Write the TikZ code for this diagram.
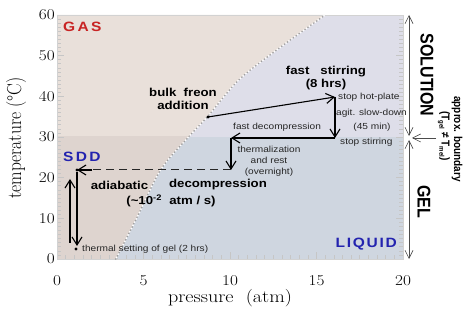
\documentclass[tikz,border=0pt]{standalone}
\usepackage{fontspec}
\setsansfont{Liberation Sans}
\usetikzlibrary{arrows.meta}
\definecolor{tlc}{RGB}{233,224,218}
\definecolor{blc}{RGB}{222,212,207}
\definecolor{trc}{RGB}{222,222,233}
\definecolor{brc}{RGB}{207,214,224}
\definecolor{gasred}{RGB}{200,35,35}
\definecolor{liqblue}{RGB}{35,35,175}
\newcommand{\hs}[1]{\scalebox{1.15}[1]{#1}}
\newcommand{\vs}[1]{\scalebox{1}[1.15]{#1}}
\begin{document}
\begin{tikzpicture}[x=1pt,y=1pt,
  every node/.style={inner sep=0pt},
  big/.style={font=\sffamily\bfseries\fontsize{11.5}{13}\selectfont, align=center},
  sml/.style={font=\sffamily\fontsize{8.8}{10.8}\selectfont, align=center, text=black!85},
  phase/.style={font=\sffamily\bfseries\fontsize{13.5}{14}\selectfont, anchor=west},
  proc/.style={line width=1.1pt, -{Straight Barb[length=8pt,width=10pt]}},
  side/.style={line width=0.6pt, draw=black!70, {Straight Barb[length=8pt,width=8pt]}-{Straight Barb[length=8pt,width=8pt]}},
  tck/.style={draw=gray!45, line width=0.6pt},
  ticklab/.style={font=\fontsize{15}{15}\selectfont},
  axlab/.style={font=\fontsize{17.5}{18}\selectfont},
]
\useasboundingbox (0,0) rectangle (471,312);
\fill[white] (0,0) rectangle (471,312);

\begin{scope}[shift={(57,53)}, x=17.3pt, y=4.0667pt]
  \fill[trc] (0,30) rectangle (20,60);
  \fill[brc] (0,0) rectangle (20,30);
  \begin{scope}
    \clip (0,30) rectangle (20,60);
    \fill[tlc] plot[smooth] coordinates {(3.4,0) (4.6,10) (6.0,22) (7.6,30) (8.7,35) (10.5,44) (12.7,51.4) (15.5,60)} -- (0,60) -- (0,0) -- cycle;
  \end{scope}
  \begin{scope}
    \clip (0,0) rectangle (20,30);
    \fill[blc] plot[smooth] coordinates {(3.4,0) (4.6,10) (6.0,22) (7.6,30) (8.7,35) (10.5,44) (12.7,51.4) (15.5,60)} -- (0,60) -- (0,0) -- cycle;
  \end{scope}
  % ticks
  \foreach \t in {1,...,59} {
    \draw[tck] (0,\t) -- ++(4pt,0pt);
    \draw[tck] (20,\t) -- ++(-4pt,0pt);
  }
  \foreach \t in {10,20,...,50} {
    \draw[tck] (0,\t) -- ++(7pt,0pt);
    \draw[tck] (20,\t) -- ++(-7pt,0pt);
  }
  \foreach \p in {0.5,1,...,19.5} {
    \draw[tck] (\p,0) -- ++(0pt,4pt);
  }
  \foreach \p in {5,10,15} {
    \draw[tck] (\p,0) -- ++(0pt,7pt);
  }
  \draw[gray!35, line width=0.5pt] (0,0) rectangle (20,60);
  % boundary curve
  \draw[white, line width=1.9pt, line cap=round, dash pattern=on 0pt off 3.6pt, dash phase=1.8pt]
    plot[smooth] coordinates {(3.4,0) (4.6,10) (6.0,22) (7.6,30) (8.7,35) (10.5,44) (12.7,51.4) (15.5,60)};
  \draw[gray!75, line width=1.7pt, line cap=round, dash pattern=on 0pt off 3.6pt]
    plot[smooth] coordinates {(3.4,0) (4.6,10) (6.0,22) (7.6,30) (8.7,35) (10.5,44) (12.7,51.4) (15.5,60)};
  % tick labels
  \foreach \t in {0,10,...,60} {
    \node[ticklab, anchor=east] (yl\t) at ([xshift=-2pt]0,\t) {\hs{\t}};
  }
  \foreach \p in {0,5,10,15,20} {
    \node[ticklab] (xl\p) at ([yshift=-22pt]\p,0) {\hs{\p}};
  }
\end{scope}

% axis labels
\node[axlab] (xlab) at (230,14) {\hs{pressure\ \ (atm)}};
\node[axlab, rotate=90] (ylab) at (16,174) {\vs{temperature (°C)}};

% phase labels
\node[phase, text=gasred] (gas) at (63,285) {\hs{G\kern2pt A\kern2pt S}};
\node[phase, text=liqblue] (sddl) at (63,155) {\hs{S\kern2pt D\kern2pt D}};
\node[phase, text=liqblue, anchor=east] (liq) at (397,68) {\hs{L\kern1.5pt I\kern1.5pt Q\kern1.5pt U\kern1.5pt I\kern1.5pt D}};

% process points
\coordinate (freon) at (208,195);
\coordinate (hot) at (335,215);
\coordinate (stir) at (335,174);
\coordinate (dec) at (231,174);
\coordinate (therm) at (231,142);
\coordinate (sdd) at (77,142);
\coordinate (sddin) at (92,142);
\coordinate (gel) at (76,63);
\coordinate (ua) at (70,69);
\coordinate (ub) at (70,133);
\coordinate (da) at (77,140);
\coordinate (db) at (77,66);

\fill (freon) circle (1.6pt);
\fill (sdd) circle (1.6pt);
\fill (gel) circle (1.6pt);
\draw[proc] (freon) -- (hot);
\draw[proc] (hot) -- (stir);
\draw[proc] (stir) -- (dec);
\draw[proc] (dec) -- (therm);
\draw[line width=1pt, black!85, dash pattern=on 8pt off 5pt] (therm) -- (sddin);
\draw[proc] (sddin) -- (sdd);
\draw[proc] (ua) -- (ub);
\draw[proc] (da) -- (db);

% process labels
\node[big] (l1) at (183,213) {\hs{bulk\ \ freon}\\\hs{addition}};
\node[big] (l2) at (326,234) {\hs{fast\ \ \ stirring}\\\hs{(8 hrs)}};
\node[sml, anchor=west] (l3) at (338,215) {\hs{stop hot-plate}};
\node[sml, anchor=west] (l4) at (336,199) {\hs{agit. slow-down}};
\node[sml] (l4b) at (372,185) {\hs{(45 min)}};
\node[sml, anchor=west] (l5) at (340,170) {\hs{stop stirring}};
\node[sml, anchor=west] (l6) at (233,185) {\hs{fast decompression}};
\node[sml] (l7) at (269,151) {\hs{thermalization}\\\hs{and rest}\\\hs{(overnight)}};
\node[big] (l8a) at (119.5,127) {\hs{adiabatic}};
\node[big] (l8b) at (218,127) {\hs{decompression}};
\node[big] (l8c) at (171,111) {\hs{(\textasciitilde10\textsuperscript{-2}\ \ atm / s)}};
\node[sml, anchor=west] (l9) at (82,63) {\hs{thermal setting of gel (2 hrs)}};

% right side
\coordinate (s1) at (409,297);
\coordinate (s2) at (409,176);
\coordinate (g1) at (409,172);
\coordinate (g2) at (409,53);
\coordinate (pa) at (436,174);
\coordinate (pb) at (412,174);
\draw[side] (s1) -- (s2);
\draw[side] (g1) -- (g2);
\draw[line width=0.6pt, draw=black!70, -{Straight Barb[length=8pt,width=8pt]}] (pa) -- (pb);
\node[font=\sffamily\bfseries\fontsize{16}{16}\selectfont, rotate=-90] (sol) at (427,237) {\vs{SOLUTION}};
\node[font=\sffamily\bfseries\fontsize{16}{16}\selectfont, rotate=-90] (gell) at (424,110) {\vs{GEL}};
\node[font=\sffamily\bfseries\fontsize{10}{10}\selectfont, rotate=-90] (ab1) at (457,173) {\vs{approx. boundary}};
\node[font=\sffamily\bfseries\fontsize{10}{10}\selectfont, rotate=-90] (ab2) at (444,176) {\vs{(T\raisebox{-2pt}{\fontsize{6}{6}\selectfont gel} ≠ T\raisebox{-2pt}{\fontsize{6}{6}\selectfont mel})}};
\end{tikzpicture}
\end{document}
